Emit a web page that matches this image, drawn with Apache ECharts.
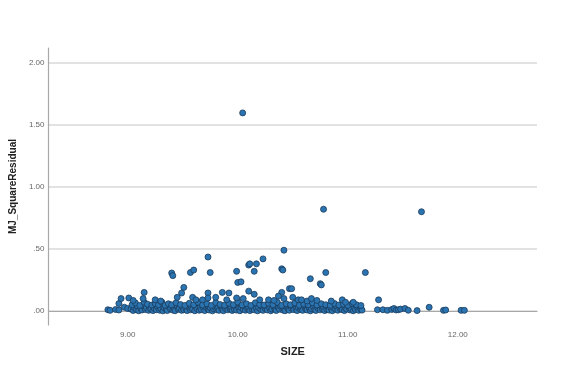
<!DOCTYPE html>
<html>
<head>
<meta charset="utf-8">
<script src="https://cdn.jsdelivr.net/npm/echarts@6/dist/echarts.min.js"></script>
<style>html,body{margin:0;padding:0;background:#fff}#c{width:565px;height:372px}</style>
</head>
<body>
<div id="c"></div>
<script>
// Tick values
const xTicks = [9, 10, 11, 12];
const yTicks = [0, 0.5, 1, 1.5, 2];

// Points near zero, sparse left part
const leftPoints = [[8.82,0.01],[8.84,0.005],[8.89,0.012],[8.92,0.008],[8.92,0.06],[8.97,0.03],[9.00,0.02]];

// Dense base band (SIZE, MJ_SquareResidual)
const basePoints = [
[9.03,.015],[9.05,.004],[9.06,.028],[9.08,.010],[9.09,.035],[9.10,.002],[9.12,.020],[9.13,.008],[9.14,.040],[9.16,.012],
[9.17,.025],[9.19,.005],[9.20,.030],[9.21,.015],[9.23,.003],[9.24,.022],[9.26,.010],[9.27,.034],[9.29,.006],[9.30,.018],
[9.32,.001],[9.33,.027],[9.35,.012],[9.36,.004],[9.38,.032],[9.39,.016],[9.41,.007],[9.42,.024],[9.43,.002],[9.45,.038],
[9.46,.013],[9.47,.021],[9.49,.005],[9.50,.029],[9.51,.010],[9.53,.017],[9.54,.003],[9.55,.033],[9.57,.009],[9.58,.025],
[9.59,.014],[9.61,.002],[9.62,.036],[9.63,.019],[9.65,.006],[9.66,.028],[9.67,.011],[9.69,.022],[9.70,.003],[9.71,.031],
[9.73,.015],[9.74,.008],[9.75,.026],[9.77,.001],[9.78,.018],[9.79,.034],[9.81,.010],[9.82,.023],[9.83,.005],[9.85,.030],
[9.86,.014],[9.87,.002],[9.89,.020],[9.90,.037],[9.91,.009],[9.93,.016],[9.94,.027],[9.95,.004],[9.97,.012],[9.98,.032],
[9.99,.007],[10.01,.021],[10.02,.002],[10.03,.029],[10.05,.013],[10.06,.035],[10.07,.006],[10.09,.018],[10.10,.025],[10.11,.003],
[10.13,.015],[10.14,.031],[10.15,.009],[10.17,.022],[10.18,.001],[10.19,.027],[10.21,.012],[10.22,.036],[10.23,.005],[10.25,.019],
[10.26,.030],[10.27,.008],[10.29,.024],[10.30,.002],[10.31,.016],[10.33,.033],[10.34,.011],[10.35,.004],[10.37,.026],[10.38,.014],
[10.39,.038],[10.41,.007],[10.42,.021],[10.43,.002],[10.45,.029],[10.46,.013],[10.47,.006],[10.49,.023],[10.50,.034],[10.51,.010],
[10.53,.017],[10.54,.003],[10.55,.028],[10.57,.012],[10.58,.020],[10.59,.005],[10.61,.032],[10.62,.015],[10.63,.008],[10.65,.025],
[10.66,.001],[10.67,.018],[10.69,.030],[10.70,.011],[10.71,.004],[10.73,.022],[10.74,.036],[10.75,.009],[10.77,.016],[10.78,.027],
[10.79,.003],[10.81,.013],[10.82,.031],[10.83,.007],[10.85,.020],[10.86,.002],[10.87,.026],[10.89,.014],[10.90,.035],[10.91,.006],
[10.93,.019],[10.94,.028],[10.95,.010],[10.97,.003],[10.98,.023],[10.99,.015],[11.01,.033],[11.02,.008],[11.03,.018],[11.05,.002],
[11.06,.027],[11.07,.012],[11.09,.021],[11.10,.005],[11.11,.030],[11.12,.014],[11.13,.007]
];

// Second layer of the band
const midPoints = [
[9.04,.05],[9.07,.065],[9.11,.045],[9.15,.07],[9.18,.055],[9.22,.048],[9.25,.06],[9.28,.05],[9.31,.072],[9.34,.046],
[9.37,.058],[9.40,.05],[9.44,.066],[9.48,.052],[9.52,.045],[9.56,.062],[9.60,.05],[9.64,.07],[9.68,.048],[9.72,.058],
[9.76,.045],[9.80,.068],[9.84,.052],[9.88,.046],[9.92,.062],[9.96,.05],[10.00,.072],[10.04,.048],[10.08,.058],[10.12,.045],
[10.16,.066],[10.20,.052],[10.24,.048],[10.28,.062],[10.32,.05],[10.36,.07],[10.40,.046],[10.44,.058],[10.48,.05],[10.52,.064],
[10.56,.047],[10.60,.056],[10.64,.05],[10.68,.066],[10.72,.048],[10.76,.058],[10.80,.05],[10.84,.045],[10.88,.06],[10.92,.048],
[10.96,.055],[11.00,.046],[11.04,.06],[11.08,.05],[11.12,.044]
];

// Scattered points 0.08 - 0.2
const upperPoints = [
[9.01,.105],[8.94,.10],[9.15,.15],[9.14,.10],[9.05,.085],[9.25,.09],[9.30,.08],[9.49,.145],[9.51,.19],[9.45,.11],
[9.59,.11],[9.62,.09],[9.73,.145],[9.73,.105],[9.80,.11],[9.86,.15],[9.92,.145],[9.99,.105],[10.05,.10],[10.10,.16],
[10.15,.135],[10.20,.09],[10.28,.09],[10.33,.085],[10.40,.15],[10.47,.18],[10.49,.18],[10.50,.11],[10.42,.10],[10.55,.09],
[10.63,.08],[10.67,.10],[10.72,.085],[10.85,.08],[10.95,.09],[10.98,.07],[11.05,.07],[9.68,.09],[9.90,.09],[10.37,.12],[10.58,.09]
];

// High residuals
const highPoints = [
[9.40,.306],[9.41,.285],[9.57,.31],[9.60,.33],[9.73,.435],[9.75,.31],[9.99,.32],[10.00,.23],[10.03,.235],[10.045,1.597],
[10.10,.37],[10.11,.38],[10.15,.32],[10.17,.38],[10.23,.42],[10.40,.34],[10.41,.33],[10.42,.49],[10.66,.26],[10.75,.22],
[10.76,.21],[10.78,.82],[10.80,.31],[11.16,.31],[11.67,.80]
];

// Right tail
const tailPoints = [
[11.28,.09],[11.27,.01],[11.32,.01],[11.36,.005],[11.40,.012],[11.42,.02],[11.44,.008],[11.46,.01],[11.48,.015],[11.52,.02],
[11.55,.006],[11.63,.003],[11.74,.03],[11.87,.005],[11.89,.008],[12.03,.005],[12.06,.005]
];

const allPoints = [].concat(leftPoints, basePoints, midPoints, upperPoints, highPoints, tailPoints);

const FONT = 'Liberation Sans, Arial, sans-serif';
const chart = echarts.init(document.getElementById('c'), null, {renderer: 'canvas'});
chart.setOption({
  animation: false,
  backgroundColor: '#fff',
  grid: {left: 48, right: 28, top: 48, bottom: 47},
  xAxis: {
    type: 'value', min: 8.28, max: 12.72,
    name: 'SIZE', nameLocation: 'middle', nameGap: 21,
    nameTextStyle: {fontFamily: FONT, fontSize: 11, fontWeight: 'bold', color: '#222'},
    axisLine: {show: true, lineStyle: {color: '#a8a8a8', width: 1.2}},
    axisTick: {show: false, customValues: xTicks},
    axisLabel: {customValues: xTicks, formatter: v => v.toFixed(2), fontFamily: FONT, fontSize: 8, color: '#666', margin: 6},
    splitLine: {show: false}
  },
  yAxis: {
    type: 'value', min: -0.113, max: 2.12,
    name: 'MJ_SquareResidual', nameLocation: 'middle', nameGap: 27,
    nameTextStyle: {fontFamily: FONT, fontSize: 10, fontWeight: 'bold', color: '#222'},
    axisLine: {show: true, lineStyle: {color: '#a8a8a8', width: 1.2}},
    axisTick: {show: false, customValues: yTicks},
    axisLabel: {customValues: yTicks, formatter: v => v < 1 ? v.toFixed(2).replace(/^0/, '') : v.toFixed(2), fontFamily: FONT, fontSize: 8, color: '#666', margin: 4},
    splitLine: {show: true, lineStyle: {color: '#d9d9d9', width: 1.5}}
  },
  series: [{
    type: 'scatter',
    data: allPoints,
    symbolSize: 6,
    itemStyle: {color: '#2b74b2', borderColor: '#1b3a58', borderWidth: 0.8, opacity: 1}
  }]
});
</script>
</body>
</html>
